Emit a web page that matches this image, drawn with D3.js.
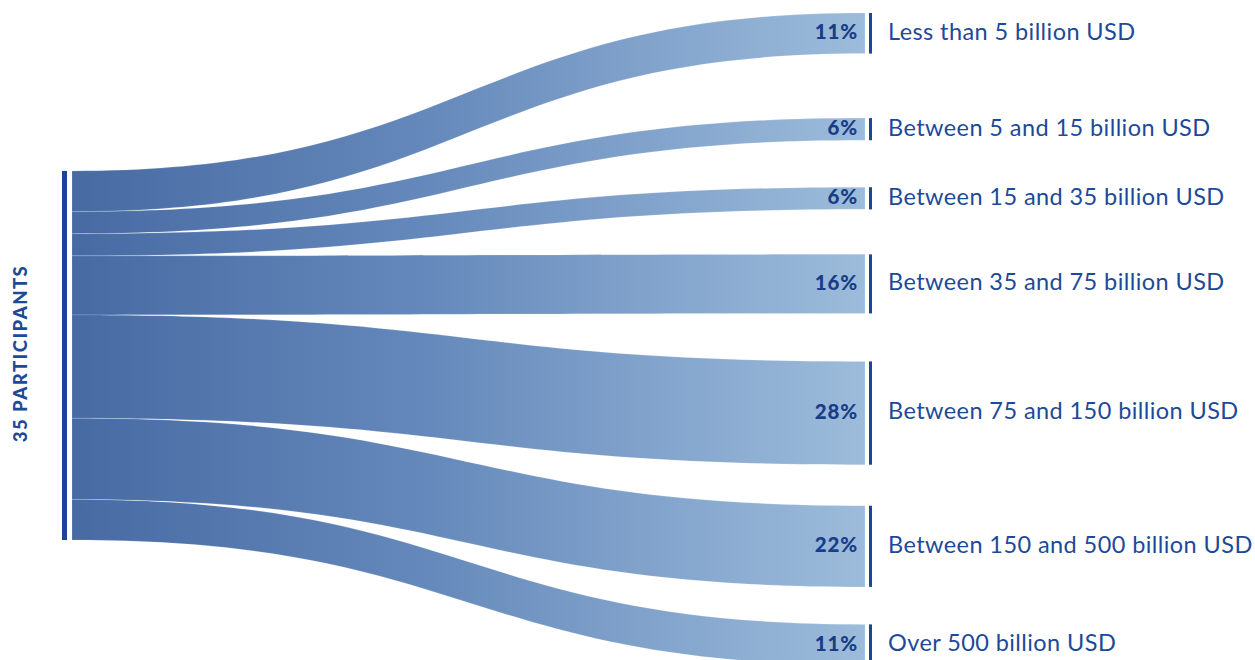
<!DOCTYPE html>
<html><head><meta charset="utf-8">
<script src="https://cdn.jsdelivr.net/npm/d3@7"></script>
<style>body{margin:0;background:#fff;} svg{display:block;}</style>
</head><body><svg id="c" width="1255" height="660"></svg>
<script>
// ---- data ----
const categories = [
  "Less than 5 billion USD",
  "Between 5 and 15 billion USD",
  "Between 15 and 35 billion USD",
  "Between 35 and 75 billion USD",
  "Between 75 and 150 billion USD",
  "Between 150 and 500 billion USD",
  "Over 500 billion USD"
];
const shares = [11, 6, 6, 16, 28, 22, 11];
const shareLabels = ["11%", "6%", "6%", "16%", "28%", "22%", "11%"];
const sourceLabel = "35 PARTICIPANTS";

// ---- layout (pixels, not data) ----
const targetGaps = [13, 64.5, 47, 45, 48, 41, 37.5]; // space above each target node
const svg = d3.select("#c");
const FONT = "Lato, 'Open Sans', sans-serif";
const dark = "#1d4a98";

const total = d3.sum(shares);
const h = d3.scaleLinear().domain([0, total]).range([0, 369]);
const x = d3.scaleLinear().domain([0, 1]).range([72, 865]);
const sourceTop = 171;

let sy = sourceTop, ty = 0;
const links = shares.map((v, i) => {
  const hh = h(v);
  ty += targetGaps[i];
  const l = {i, v, sy0: sy, sy1: sy + hh, ty0: ty, ty1: ty + hh};
  sy += hh; ty += hh;
  return l;
});

const defs = svg.append("defs");
const grad = defs.append("linearGradient").attr("id", "g")
  .attr("gradientUnits", "userSpaceOnUse")
  .attr("x1", x(0)).attr("x2", x(1)).attr("y1", 0).attr("y2", 0);
grad.append("stop").attr("offset", "0%").attr("stop-color", "#476aa3");
grad.append("stop").attr("offset", "45%").attr("stop-color", "#6589bb");
grad.append("stop").attr("offset", "100%").attr("stop-color", "#9dbcdb");

function linkPath(l) {
  const x0 = x(0), x1 = x(1), xm = x(0.5);
  const p = d3.path();
  p.moveTo(x0, l.sy0);
  p.bezierCurveTo(xm, l.sy0, xm, l.ty0, x1, l.ty0);
  p.lineTo(x1, l.ty1);
  p.bezierCurveTo(xm, l.ty1, xm, l.sy1, x0, l.sy1);
  p.closePath();
  return p.toString();
}

svg.append("g").selectAll("path").data(links).join("path")
  .attr("d", linkPath)
  .attr("fill", "url(#g)")
  .attr("stroke", "#ffffff").attr("stroke-opacity", 0.3).attr("stroke-width", 0.5);

// source bar
svg.append("rect").attr("x", 62).attr("y", sourceTop).attr("width", 5).attr("height", h(total)).attr("fill", "#1b4597");

// target bars
svg.append("g").selectAll("rect").data(links).join("rect")
  .attr("x", 869).attr("y", d => d.ty0).attr("width", 3).attr("height", d => d.ty1 - d.ty0)
  .attr("fill", "#1b4597");

// percent labels
svg.append("g").selectAll("text").data(links).join("text")
  .attr("x", 858).attr("y", d => (d.ty0 + d.ty1) / 2)
  .attr("dy", "0.3em").attr("text-anchor", "end")
  .attr("font-family", FONT).attr("font-weight", 900).attr("font-size", 20.5)
  .attr("letter-spacing", 0.8)
  .attr("fill", "#183d88")
  .text(d => shareLabels[d.i]);

// category labels
svg.append("g").selectAll("text").data(links).join("text")
  .attr("x", 888).attr("y", d => (d.ty0 + d.ty1) / 2)
  .attr("dy", "0.27em")
  .attr("font-family", FONT).attr("font-size", 23.5)
  .attr("letter-spacing", 0.42)
  .attr("fill", dark)
  .text(d => categories[d.i]);

// source label
svg.append("text")
  .attr("transform", `translate(27,${sourceTop + h(total) / 2 - 2}) rotate(-90)`)
  .attr("text-anchor", "middle")
  .attr("font-family", FONT).attr("font-weight", 900).attr("font-size", 18.5)
  .attr("letter-spacing", 1.5)
  .attr("fill", dark)
  .text(sourceLabel);
</script></body></html>
